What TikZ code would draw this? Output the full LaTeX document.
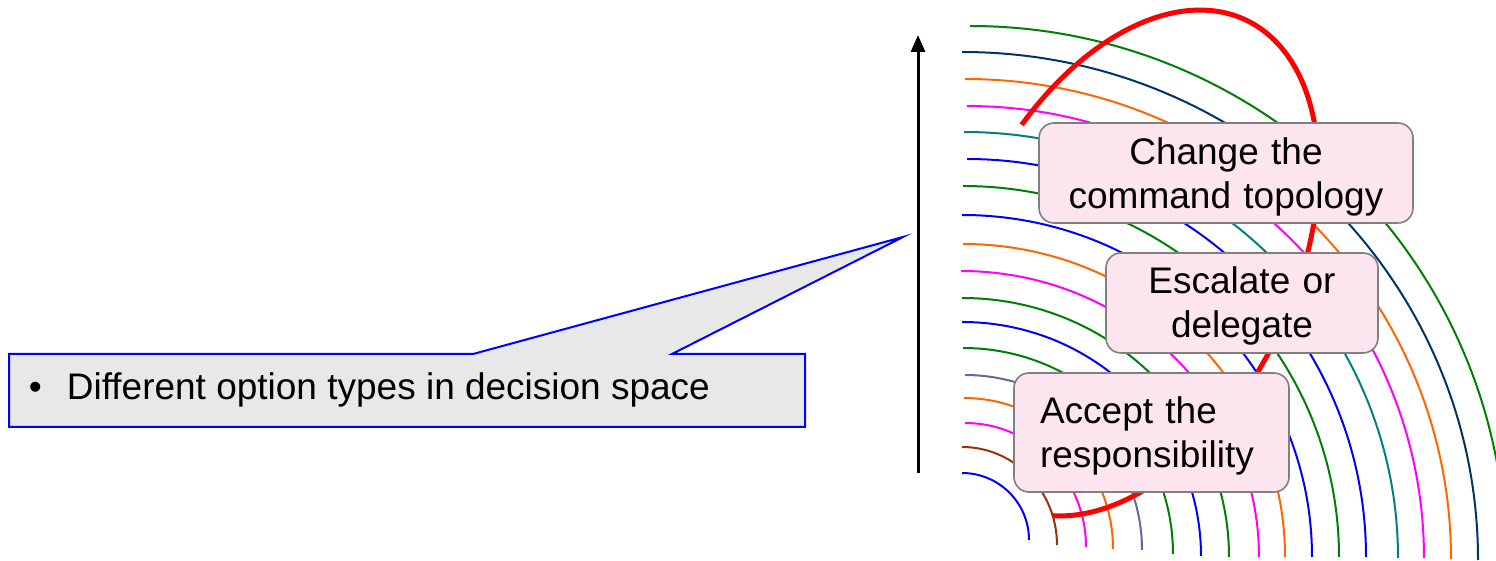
\documentclass[tikz,border=0pt]{standalone}
\usepackage{fontspec}
\setmainfont{Liberation Sans}
\usetikzlibrary{arrows.meta}
\definecolor{cgreen}{RGB}{0,128,0}
\definecolor{cblue}{RGB}{0,0,255}
\definecolor{cbrown}{RGB}{153,51,0}
\definecolor{cmagenta}{RGB}{255,0,255}
\definecolor{corange}{RGB}{255,102,0}
\definecolor{cslate}{RGB}{102,102,153}
\definecolor{cteal}{RGB}{0,128,128}
\definecolor{cnavy}{RGB}{0,51,102}
\definecolor{cred}{RGB}{255,0,0}
\definecolor{boxpink}{RGB}{253,229,240}
\definecolor{boxgray}{RGB}{128,128,128}
\definecolor{notegray}{RGB}{232,232,232}
\begin{document}
\begin{tikzpicture}[x=0.5pt,y=-0.5pt,
  every node/.style={font=\fontsize{18.5}{22}\selectfont},
  arcline/.style={line width=1pt},
  redline/.style={draw=cred,line width=2.5pt},
  optbox/.style={draw=boxgray,line width=0.8pt,fill=boxpink,rounded corners=7.5pt,align=center,inner sep=0pt,text height=10pt},
  notebox/.style={draw=cblue,line width=1pt,fill=notegray,line join=miter},
  axisline/.style={line width=1.5pt,-{Triangle[length=8.5pt,width=7pt]}}]
\useasboundingbox (0,0) rectangle (1496,561);
% concentric quarter arcs
\begin{scope}
\clip (0,0) rectangle (1496,561);
\foreach \xa/\yt/\xr/\yb/\c in {
  962/473/1029/540/cblue,
  962/447/1057/545/cbrown,
  965/423/1086/547/cmagenta,
  964/398/1113/549/corange,
  965/375/1142/550/cslate,
  963/348/1173/554/cgreen,
  962/322/1201/556/cblue,
  962/298/1229/557/cgreen,
  961/271/1259/557/cmagenta,
  963/244/1285/557/corange,
  962/215/1312/557/cblue,
  963/186/1339/557/cgreen,
  967/159/1366/557/cblue,
  964/132/1398/558/cteal,
  967/106/1424/558/cmagenta,
  965/79/1451/559/corange,
  962/52/1478/560/cnavy,
  970/26/1506/561/cgreen}
  \draw[arcline,draw=\c] (\xa,\yt) arc[start angle=-90,end angle=0,x radius={\xr-\xa},y radius={\yb-\yt}];
\end{scope}
% red tilted ellipse arc
\draw[redline] plot[domain=-73.2:166.1,samples=150,smooth]
  ({1130+116.32*cos(\x)+148.26*sin(\x)},{263-242.76*cos(\x)+71.04*sin(\x)});
% option boxes
\node[optbox,minimum width=187pt,minimum height=50pt,text width=187pt,text depth=18pt] (chg) at (1226,173) {Change the\\command topology};
\node[optbox,minimum width=136pt,minimum height=50pt,text width=136pt,text depth=19pt] (esc) at (1242,303) {Escalate or\\delegate};
\node[optbox,minimum width=137.5pt,minimum height=59.5pt,text depth=18.5pt,align=left,inner xsep=13pt,text width=111.5pt] (acc) at (1151.5,432.5) {Accept the\\responsibility};
% vertical axis
\coordinate (axbot) at (918,473);
\coordinate (axtop) at (918,35);
\draw[axisline] (axbot) -- (axtop);
% callout
\coordinate (tip) at (903,237);
\draw[notebox] (9,354) -- (473,354) -- (tip) -- (672,354) -- (805,354) -- (805,427) -- (9,427) -- cycle;
\node[anchor=base west,inner sep=0pt] (note) at (28.5,400) {\textbullet\hspace{12.5pt}Different option types in decision space};
\end{tikzpicture}
\end{document}
